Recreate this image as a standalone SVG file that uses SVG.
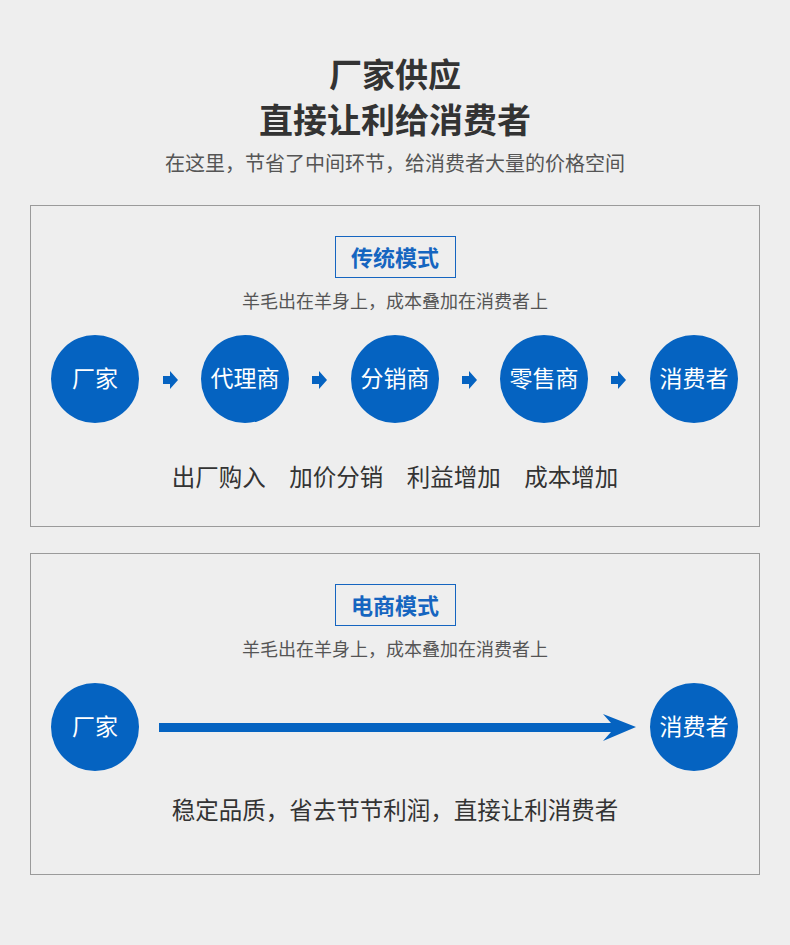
<svg xmlns="http://www.w3.org/2000/svg" width="790" height="945" viewBox="0 0 790 945">
<style>
text{font-family:"Noto Sans CJK SC","Noto Sans",sans-serif;text-anchor:middle}
.panel{fill:none;stroke:#9a9a9a;stroke-width:1}
.tag{fill:none;stroke:#1565c0;stroke-width:1}
.tagt{fill:#1565c0;font-size:22px;font-weight:bold}
.sub{fill:#555;font-size:18px}
.c{fill:#0563c1}
.ct{fill:#fff;font-size:23px}
.lab{fill:#333;font-size:23.5px}
.arr{fill:#0563c1}
</style>
<rect width="790" height="945" fill="#eeeeee"/>
<text x="395" y="87" font-size="33" font-weight="bold" fill="#333">厂家供应</text>
<text x="395" y="133" font-size="34" font-weight="bold" fill="#333">直接让利给消费者</text>
<text x="395" y="171" font-size="20" fill="#555">在这里，节省了中间环节，给消费者大量的价格空间</text>
<g id="panel1">
<rect class="panel" x="30.5" y="205.5" width="729" height="321"/>
<rect class="tag" x="335.5" y="236.5" width="120" height="41"/>
<text class="tagt" x="395" y="266">传统模式</text>
<text class="sub" x="395" y="308">羊毛出在羊身上，成本叠加在消费者上</text>
</g>
<g id="n1"><circle class="c" cx="95" cy="379" r="44"/><text class="ct" x="95" y="387">厂家</text></g>
<g id="n2"><circle class="c" cx="245" cy="379" r="44"/><text class="ct" x="245" y="387">代理商</text></g>
<g id="n3"><circle class="c" cx="395" cy="379" r="44"/><text class="ct" x="395" y="387">分销商</text></g>
<g id="n4"><circle class="c" cx="544" cy="379" r="44"/><text class="ct" x="544" y="387">零售商</text></g>
<g id="n5"><circle class="c" cx="694" cy="379" r="44"/><text class="ct" x="694" y="387">消费者</text></g>
<text class="lab" x="395" y="486">出厂购入　加价分销　利益增加　成本增加</text>
<g id="panel2">
<rect class="panel" x="30.5" y="553.5" width="729" height="321"/>
<rect class="tag" x="335.5" y="584.5" width="120" height="41"/>
<text class="tagt" x="395" y="614">电商模式</text>
<text class="sub" x="395" y="656">羊毛出在羊身上，成本叠加在消费者上</text>
</g>
<g id="m1"><circle class="c" cx="95" cy="727" r="44"/><text class="ct" x="95" y="735">厂家</text></g>
<g id="m2"><circle class="c" cx="694" cy="727" r="44"/><text class="ct" x="694" y="735">消费者</text></g>
<text class="lab" x="395" y="819" font-size="24">稳定品质，省去节节利润，直接让利消费者</text>
<g id="connectors">
<path class="arr" d="M163 376h7v-5l8 9-8 9v-5h-7z"/>
<path class="arr" d="M312 376h7v-5l8 9-8 9v-5h-7z"/>
<path class="arr" d="M462 376h7v-5l8 9-8 9v-5h-7z"/>
<path class="arr" d="M611 376h7v-5l8 9-8 9v-5h-7z"/>
<path class="arr" d="M159 723h452l-8-9 33 13-33 14 8-9h-452z"/>
</g>
</svg>
